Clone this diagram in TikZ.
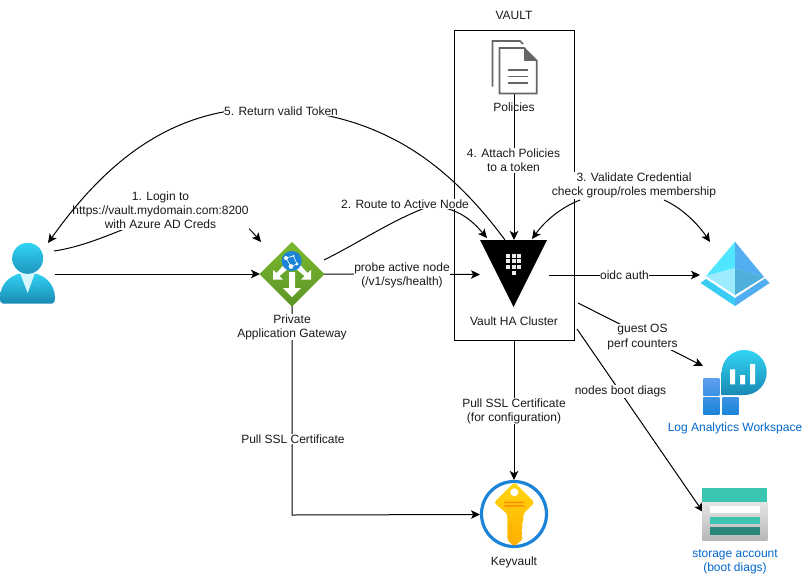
\documentclass[tikz,border=0pt]{standalone}
\usepackage{fontspec}
\setmainfont{Liberation Sans}
\usetikzlibrary{arrows.meta}
\definecolor{linkblue}{HTML}{0066CC}
\definecolor{docgrey}{HTML}{666666}
\definecolor{cyanA}{HTML}{32D4F5}
\definecolor{cyanB}{HTML}{198AB3}
\definecolor{blueA}{HTML}{5EA0EF}
\definecolor{blueB}{HTML}{1B84D8}
\definecolor{greenA}{HTML}{7AB92E}
\definecolor{greenB}{HTML}{5B9526}
\definecolor{tealA}{HTML}{3CC5B0}
\definecolor{tealB}{HTML}{2B877A}
\definecolor{goldA}{HTML}{FFD70F}
\definecolor{goldB}{HTML}{FFAE00}
\definecolor{aadA}{HTML}{50E6FF}
\definecolor{aadB}{HTML}{9CEBFF}
\definecolor{aadC}{HTML}{50B0DC}
\tikzset{
  wire/.style={line width=1pt,draw=black},
  arrowwire/.style={wire,-{Stealth[length=9pt,width=8.5pt,inset=2.2pt]}},
  txt/.style={font=\fontsize{12}{14.2}\selectfont,align=center,inner sep=0pt,text=black!90},
  lbl/.style={txt,fill=white,inner xsep=0.5pt,inner ysep=0.5pt},
  bluetxt/.style={txt,text=linkblue},
}
\begin{document}
\begin{tikzpicture}[x=1pt,y=-1pt]
\useasboundingbox (0,0) rectangle (803,576);
\fill[white] (0,0) rectangle (803,576);

% named points
\coordinate (userR) at (55,274);
\coordinate (userA) at (54,251);
\coordinate (userT) at (48,243);
\coordinate (gwL) at (260,274);
\coordinate (gwT) at (261,242);
\coordinate (gwR) at (324,274);
\coordinate (gwUp) at (324,260);
\coordinate (gwB) at (292,306);
\coordinate (gwCorner) at (292,515);
\coordinate (vaultL) at (480,274.5);
\coordinate (vaultA) at (487,238);
\coordinate (vaultT) at (514,240);
\coordinate (vaultB) at (505,240);
\coordinate (vaultC) at (532,239);
\coordinate (vaultR) at (549,275);
\coordinate (polB) at (514,94);
\coordinate (boxB) at (514,340);
\coordinate (boxG) at (578,303);
\coordinate (boxD) at (577,329);
\coordinate (aadL) at (700,275);
\coordinate (aadT) at (710,242);
\coordinate (lawL) at (703,366);
\coordinate (stoL) at (703,512);
\coordinate (kvT) at (514,480);
\coordinate (kvL) at (480,514.5);
\coordinate (c5) at (281,109);
\coordinate (c2) at (430,206);
\coordinate (c3L) at (580,200);
\coordinate (c3R) at (664,200);

% vault box
\node[draw=black,line width=1pt,inner sep=0pt,anchor=north west,
      minimum width=120pt,minimum height=310pt] (box) at (454,30) {};

% connectors
\draw[arrowwire] (userR) -- (gwL);
\draw[arrowwire] (userA) .. controls (130,240) and (200,170) .. (gwT);
\draw[arrowwire] (gwUp) .. controls (362,241) and (392,220) .. (c2) .. controls (460,207) and (475,224) .. (vaultA);
\draw[arrowwire] (gwR) -- (vaultL);
\draw[arrowwire] (gwB) -- (gwCorner) -- (kvL);
\draw[arrowwire] (polB) -- (vaultT);
\draw[arrowwire] (c3L) .. controls (560,208) and (545,221) .. (vaultC);
\draw[arrowwire] (c3R) .. controls (682,208) and (698,224) .. (aadT);
\draw[arrowwire] (vaultR) -- (aadL);
\draw[arrowwire] (boxG) -- (lawL);
\draw[arrowwire] (boxD) -- (stoL);
\draw[arrowwire] (boxB) -- (kvT);

% labels
\node[lbl] (l1) at (160.5,210.5) {1. Login to\\https://vault.mydomain.com:8200\\with Azure AD Creds};
\draw[arrowwire] (vaultB) .. controls (440,152) and (372,116) .. (c5) .. controls (170,101) and (100,170) .. (userT);
\node[lbl] (l5) at (281,111) {5. Return valid Token};
\node[lbl] (l2) at (405,204) {2. Route to Active Node};
\node[lbl] (l4) at (513.5,160.5) {4. Attach Policies\\to a token};
\node[lbl] (l3) at (634,185.5) {3. Validate Credential\\check group/roles membership};
\node[lbl] (lp) at (402,275.5) {probe active node\\(/v1/sys/health)};
\node[lbl] (lo) at (624.5,275) {oidc auth};
\node[lbl] (lg) at (642.5,337) {guest OS\\perf counters};
\node[lbl] (ln) at (620.5,391.5) {nodes boot diags};
\node[lbl] (ls) at (514,411) {Pull SSL Certificate\\(for configuration)};
\node[lbl] (la) at (293,439) {Pull SSL Certificate};
\node[lbl] (lgw) at (292,327) {Private\\Application Gateway};

\node[txt] (tv) at (514,15.5) {VAULT};
\node[txt] (tp) at (514,107.5) {Policies};
\node[txt] (th) at (514,321.5) {Vault HA Cluster};
\node[txt] (tk) at (514,562) {Keyvault};
\node[bluetxt] (tl) at (735,428.5) {Log Analytics Workspace};
\node[bluetxt] (ts) at (735,561.5) {storage account\\(boot diags)};

% policies icon
\draw[docgrey,line width=1.6pt] (492.5,86.5) -- (492.5,41) -- (520,41) -- (523,44);
\path[fill=white,draw=docgrey,line width=1.8pt] (499.5,48) -- (524,48) -- (536.8,61) -- (536.8,93.5) -- (499.5,93.5) -- cycle;
\fill[docgrey] (524,47.3) -- (537.5,60.8) -- (524,60.8) -- cycle;
\foreach \yy in {70,76.5,82.7} \draw[docgrey,line width=1.6pt] (507.7,\yy) -- (527.7,\yy);

% user icon
\path[top color=cyanA,bottom color=cyanB] (3,303.5) .. controls (0.5,303.5) and (0,301) .. (0,298) .. controls (0,283) and (12,272.5) .. (27.5,272.5) .. controls (43,272.5) and (55,283) .. (55,298) .. controls (55,301) and (54.5,303.5) .. (52,303.5) -- cycle;
\fill[white!80!cyanA] (20,273) -- (35,273) -- (27.7,293) -- cycle;
\path[top color=cyanA,bottom color=cyanB!85!cyanA] (27.7,258.3) circle (15.5);

% gateway icon
\path[top color=greenA,bottom color=greenB] (292,242) -- (324.5,274) -- (292,306.5) -- (259.5,274) -- cycle;
\fill[white] (289,272) -- (295,272) -- (295,288) -- (301,288) -- (292,297) -- (283,288) -- (289,288) -- cycle;
\fill[white] (273,270) -- (273,279.5) -- (283,279.5) -- (279.5,276) -- (289,268) -- (285,263.5) -- (276.5,273) -- cycle;
\fill[white] (311,270) -- (311,279.5) -- (301,279.5) -- (304.5,276) -- (295,268) -- (299,263.5) -- (307.5,273) -- cycle;
\fill[blueB] (291.7,261) circle (10);
\draw[white,line width=0.6pt] (286,258) -- (293.5,256) (286,258) -- (291,266.5) -- (297,264) -- (293.5,256);
\fill[white] (286,258) circle (2) (291,266.5) circle (2.4) (297,264) circle (1.6) (293.5,256) circle (1.2);

% vault triangle
\fill[black] (480,240) -- (547,240) -- (513.5,307) -- cycle;
\foreach \xx in {506,511.7,517.4} \foreach \yy in {253.5,259.2,264.9} \fill[white!92!black] (\xx,\yy) rectangle ++(4,4);
\fill[white!92!black] (511.7,270.5) rectangle ++(4,4);

% Entra icon
\fill[aadA] (706,276) -- (735,241.7) -- (735,268) -- cycle;
\fill[blueA!85!cyan] (735,241.7) -- (764,277) -- (735,268) -- cycle;
\fill[aadB] (706,276) -- (735,268) -- (735,295) -- cycle;
\fill[aadC] (735,268) -- (764,277) -- (735,295) -- cycle;
\fill[cyanA!85!blueA] (700.5,283) -- (706,279) -- (735,298) -- (735,306) -- cycle;
\fill[blueA!85!cyan] (769.5,283) -- (765,278.5) -- (735,298) -- (735,306) -- cycle;

% log analytics icon
\path[top color=cyanA,bottom color=cyanB] (721.7,395) -- (721.7,372.5) arc[start angle=180,end angle=450,radius=22.5] -- cycle;
\fill[white] (730,369.3) rectangle (735,384.3) (740,375) rectangle (745,384.3) (750,364) rectangle (755,384.3);
\path[top color=blueA,bottom color=blueA!50!blueB] (703.3,378.3) rectangle (719.3,395);
\path[top color=blueA!50!blueB,bottom color=blueB] (703.3,397.7) rectangle (719.3,414);
\path[top color=blueA!50!blueB,bottom color=blueB] (722.3,397.7) rectangle (738.7,414);

% storage icon
\path[top color=white!90!black,bottom color=white!72!black] (702.3,502) rectangle (767.3,540);
\fill[tealA] (702.3,488.3) rectangle (767.3,502.3);
\fill[white] (710,506) rectangle (760,513.3);
\fill[tealA] (710,516.7) rectangle (760,524);
\fill[tealB] (710,527.3) rectangle (760,534.7);

% key vault icon
\draw[blueB,line width=3.2pt,fill=white] (514,514) circle (32.5);
\path[rounded corners=2.5pt,top color=goldA,bottom color=goldB] (514.3,482.2) -- (534.5,502.5) -- (523.3,514) -- (523.3,522) -- (521,524.5) -- (523.3,527) -- (520.5,530) -- (523.3,533) -- (520.5,535.5) -- (523.3,538.5) -- (514.3,546.5) -- (507.3,540) -- (507.3,514) -- (494,502.5) -- cycle;
\fill[white] (514.3,492.3) circle (4);
\fill[goldB!80!red] (504.3,501.5) rectangle (524.3,503) (504.3,505.2) rectangle (524.3,506.7);
\draw[goldB,line width=1pt] (511,522) -- (511,538);
\end{tikzpicture}
\end{document}
